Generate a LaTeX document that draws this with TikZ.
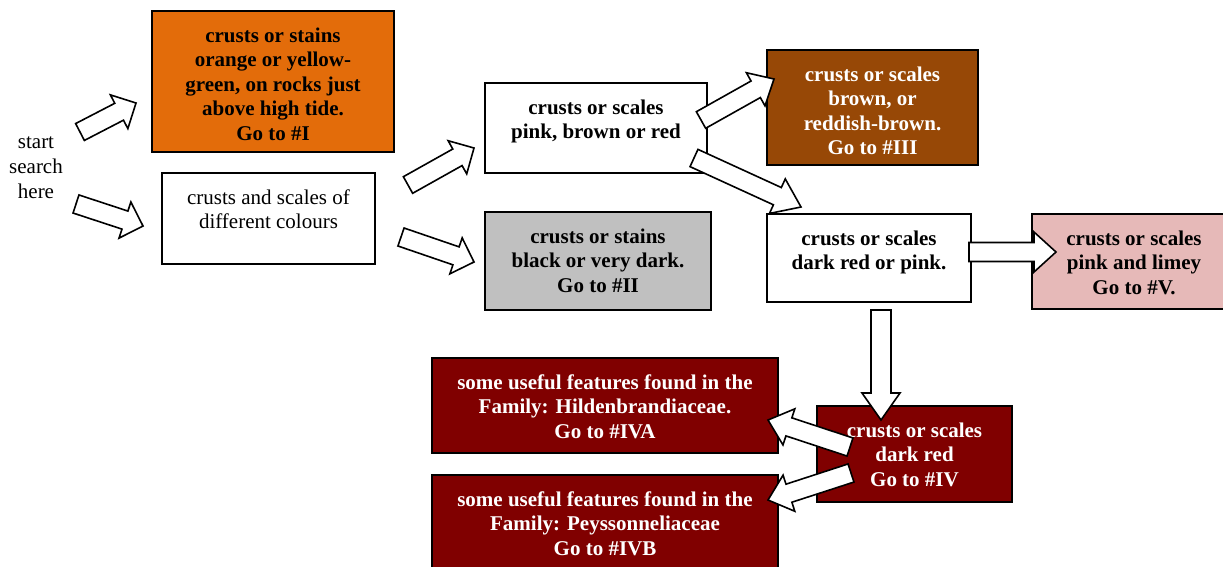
\documentclass[tikz,border=0pt]{standalone}
\usepackage{fontspec}
\setmainfont{Liberation Serif}
\usetikzlibrary{calc}
\definecolor{orangeI}{HTML}{E36C0A}
\definecolor{brownIII}{HTML}{974806}
\definecolor{grayII}{HTML}{C0C0C0}
\definecolor{pinkV}{HTML}{E6B9B8}
\definecolor{redIV}{HTML}{800000}
\tikzset{
  boxstyle/.style={draw=black, line width=1.8pt, inner sep=0pt, fill=white,
    font=\fontsize{21pt}{24.5pt}\selectfont\bfseries, text=black},
  plainbox/.style={font=\fontsize{21pt}{24.5pt}\selectfont},
  darkbox/.style={text=white},
  barrowst/.style={draw=black, fill=white, line width=1.6pt, line join=miter},
}
\newcommand\bx[7]{%
  \pgfmathsetmacro\bw{#5-#3}\pgfmathsetmacro\bh{#6-#4}%
  \node[boxstyle,#2] (#1) at ({(#3+#5)/2},{(#4+#6)/2})
    {\parbox[c][\bh pt][t]{\bw pt}{\centering\rule{0pt}{31pt}#7}};}
\newcommand\barrow[5]{%
  \coordinate (#1-#2-n) at ($(#2)!#5pt!(#1)$);
  \draw[barrowst] ($(#1)!#3pt!90:(#2)$) -- ($(#1-#2-n)!#3pt!90:(#2)$)
    -- ($(#1-#2-n)!#4pt!90:(#2)$) -- (#2) -- ($(#1-#2-n)!#4pt!-90:(#2)$)
    -- ($(#1-#2-n)!#3pt!-90:(#2)$) -- ($(#1)!#3pt!-90:(#2)$) -- cycle;}
\begin{document}
\begin{tikzpicture}[x=1pt,y=-1pt]
\useasboundingbox (0,0) rectangle (1223,566);
\clip (0,0) rectangle (1223,566);
% start text
\node[inner sep=0pt, anchor=north, align=center,
  font=\fontsize{21pt}{25pt}\selectfont] (start) at (36,117)
  {\rule{0pt}{31pt}start\\search\\here};
% boxes
\bx{boxI}{fill=orangeI}{152}{11}{394}{152}{crusts or stains\\orange or yellow-\\green, on rocks just\\above high tide.\\Go to \#I}
\bx{boxdiff}{plainbox}{162}{173}{375}{264}{crusts and scales of\\different colours}
\bx{boxpbr}{}{485}{83}{707}{173}{crusts or scales\\pink, brown or red}
\bx{boxII}{fill=grayII}{485}{212}{711}{310}{crusts or stains\\black or very dark.\\Go to \#II}
\bx{boxIII}{fill=brownIII,darkbox}{767}{50}{978}{165}{crusts or scales\\brown, or\\reddish-brown.\\Go to \#III}
\bx{boxdrp}{}{767}{214}{971}{302}{crusts or scales\\dark red or pink.}
\bx{boxV}{fill=pinkV}{1032}{214}{1236}{309}{crusts or scales\\pink and limey\\Go to \#V.}
\bx{boxIV}{fill=redIV,darkbox}{817}{406}{1012}{502}{crusts or scales\\dark red\\Go to \#IV}
\bx{boxIVA}{fill=redIV,darkbox}{432}{358}{778}{453}{some useful features found in the\\Family: Hildenbrandiaceae.\\Go to \#IVA}
\bx{boxIVB}{fill=redIV,darkbox}{432}{475}{778}{580}{some useful features found in the\\Family: Peyssonneliaceae\\Go to \#IVB}
% arrow end points
\coordinate (t1) at (80,132);  \coordinate (p1) at (136,103);
\coordinate (t2) at (76,204);  \coordinate (p2) at (143,226);
\coordinate (t3) at (408,185); \coordinate (p3) at (474,148);
\coordinate (t4) at (401,237); \coordinate (p4) at (474,262);
\coordinate (t5) at (701,120); \coordinate (p5) at (774,79);
\coordinate (t6) at (694,158); \coordinate (p6) at (801,207);
\coordinate (t7) at (969,252); \coordinate (p7) at (1056,252);
\coordinate (t8) at (881,310); \coordinate (p8) at (881,420);
\coordinate (t9) at (850,447); \coordinate (p9) at (768,420);
\coordinate (t10) at (851,473); \coordinate (p10) at (768,500);
\barrow{t1}{p1}{9.5}{19}{19}
\barrow{t2}{p2}{9.5}{19}{19}
\barrow{t3}{p3}{9.5}{19}{19}
\barrow{t4}{p4}{9.5}{19}{19}
\barrow{t5}{p5}{9.5}{19}{21}
\barrow{t6}{p6}{9.5}{19}{26}
\barrow{t7}{p7}{9.5}{20}{22}
\barrow{t8}{p8}{10}{19}{27}
\barrow{t9}{p9}{9.5}{19}{22}
\barrow{t10}{p10}{9.5}{19}{22}
\end{tikzpicture}
\end{document}
